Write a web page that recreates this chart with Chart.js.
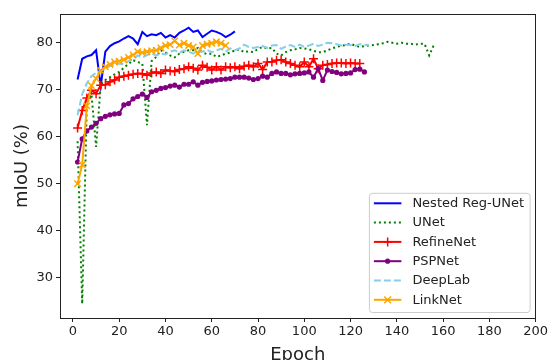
<!DOCTYPE html>
<html>
<head>
<meta charset="utf-8">
<script src="https://cdn.jsdelivr.net/npm/chart.js@4"></script>
<style>
  html, body { margin: 0; padding: 0; background: #fff; }
  #wrap { width: 550px; height: 360px; position: relative; }
</style>
</head>
<body>
<div id="wrap"><canvas id="mainChart" width="550" height="360"></canvas></div>
<script>
  // epochs shared by all curves; each curve uses the first N of them
  var epochs = [2, 4, 6, 8, 10, 12, 14, 16, 18, 20, 22, 24, 26, 28, 30, 32, 34, 36, 38, 40,
    42, 44, 46, 48, 50, 52, 54, 56, 58, 60, 62, 64, 66, 68, 70, 72, 74, 76, 78, 80,
    82, 84, 86, 88, 90, 92, 94, 96, 98, 100, 102, 104, 106, 108, 110, 112, 114, 116, 118, 120,
    122, 124, 126, 128, 130, 132, 134, 136, 138, 140, 142, 144, 146, 148, 150, 152, 154, 156];

  var seriesNames = ["Nested Reg-UNet", "UNet", "RefineNet", "PSPNet", "DeepLab", "LinkNet"];

  var nestedValues = [72.1, 76.5, 77, 77.3, 78.3, 70.7, 78, 79.2, 79.8, 80.2, 80.8, 81.3, 80.8, 79.6, 82.2,
    81.3, 81.7, 81.5, 82, 81, 81.5, 81, 82, 82.5, 83.1, 82.2, 82.5, 81.1, 81.8, 82.5, 82.2, 81.8,
    81.1, 81.6, 82.3];

  var unetValues = [59, 24.5, 67, 69, 57.8, 71, 72, 72.6, 73.2, 73.7, 74.6, 75.4, 76.2, 75.8, 75.5,
    62.4, 76, 76.9, 78.3, 77.8, 77.2, 76.8, 77.6, 78, 78.3, 78.3, 78.8, 77.8, 77.5, 77.6, 76.9,
    77.2, 77.6, 77.8, 78.3, 78.5, 77.9, 78.1, 77.9, 78.6, 79, 78.7, 78.8, 77.6, 77.2, 77.9, 78.3,
    78.5, 78.8, 78.7, 78.5, 78.2, 77.9, 77.9, 78.3, 78.7, 79, 79.3, 79.4, 79.7, 79.3, 79, 79.2,
    79.3, 79.4, 79.6, 79.8, 80.1, 79.9, 79.7, 79.9, 79.7, 79.7, 79.5, 79.7, 79.7, 77.2, 79.4];

  var refineValues = [61.8, 65.5, 68.2, 69.8, 69.1, 70.9, 71, 71.6, 72, 72.6, 72.8, 73, 73.2, 73.4,
    73.3, 73, 73.5, 73.7, 73.4, 74.1, 73.9, 73.8, 74.2, 74.4, 74.8, 74.5, 74.1, 75.1, 74.7, 74.1,
    74.8, 74.1, 74.8, 74.6, 74.8, 74.4, 74.9, 75.1, 74.8, 75.5, 74.2, 75.8, 75.8, 76.2, 76.3,
    75.8, 75.5, 75.1, 74.8, 75.8, 74.8, 76.5, 74.4, 75.1, 75.3, 75.5, 75.6, 75.6, 75.5, 75.6,
    75.5, 75.5];

  var pspValues = [54.6, 59.5, 61.2, 62, 62.8, 63.8, 64.3, 64.6, 64.8, 64.9, 66.7, 67, 68, 68.5, 69,
    68.3, 69.5, 69.8, 70.2, 70.4, 70.7, 70.9, 70.5, 71.1, 71.1, 71.6, 70.9, 71.5, 71.7, 71.8, 72,
    72.1, 72.2, 72.3, 72.6, 72.6, 72.6, 72.4, 72.1, 72.3, 72.8, 72.6, 73.4, 73.7, 73.4, 73.4,
    73.1, 73.3, 73.4, 73.5, 73.7, 72.6, 74.4, 71.9, 74.1, 73.8, 73.6, 73.3, 73.4, 73.5, 74.2,
    74.3, 73.7];

  var deeplabValues = [64.5, 69, 71.3, 72.8, 73.5, 74, 74.3, 75, 75.2, 75.5, 75.3, 76, 76.5, 77.2,
    76.8, 77.3, 77.6, 77.2, 77.6, 77.4, 78, 78.3, 77.8, 78.3, 78, 77.6, 78.2, 78, 78.4, 77.9,
    78.3, 78.6, 78, 78.7, 78.3, 78.7, 79.5, 79, 78.8, 79, 79.2, 78.8, 79.3, 79.4, 78.6, 79.1,
    79.4, 79, 79.5, 79, 79.3, 79.7, 79.2, 79.5, 79.9, 79.8, 79.6, 79.3, 79.5, 79.4, 79.2, 79.6,
    79.5, 79.4];

  var linknetValues = [50, 54, 66.5, 70.8, 72.3, 74, 74.8, 75.3, 75.8, 76, 76.3, 76.8, 77.3, 78,
    77.8, 78, 78.2, 78.3, 78.8, 79.3, 79.5, 80.3, 79.4, 79.8, 79.3, 79, 77.6, 79.3, 79.6, 79.8,
    80.1, 79.8, 79.3];

  var xTickValues = [0, 20, 40, 60, 80, 100, 120, 140, 160, 180, 200];
  var yTickValues = [30, 40, 50, 60, 70, 80];

  function pairUp(values) {
    return values.map(function (v, i) { return { x: epochs[i], y: v }; });
  }

  var styles = [
    { color: "#0000ff", dash: [], point: false, radius: 0 },
    { color: "#008000", dash: [2, 3], point: false, radius: 0 },
    { color: "#ff0000", dash: [], point: "cross", radius: 4.5 },
    { color: "#800080", dash: [], point: "circle", radius: 2.6 },
    { color: "#87ceeb", dash: [7, 3], point: false, radius: 0 },
    { color: "#ffa500", dash: [], point: "crossRot", radius: 4.5 }
  ];
  var allValues = [nestedValues, unetValues, refineValues, pspValues, deeplabValues, linknetValues];

  var datasets = seriesNames.map(function (name, i) {
    var s = styles[i];
    return {
      label: name,
      data: pairUp(allValues[i]),
      borderColor: s.color,
      backgroundColor: s.color,
      borderWidth: 2,
      borderDash: s.dash,
      borderCapStyle: "butt",
      pointStyle: s.point || "circle",
      pointRadius: s.radius,
      pointBorderWidth: s.point === "circle" ? 0 : 1.5,
      pointBorderColor: s.color,
      pointBackgroundColor: s.color,
      tension: 0,
      fill: false,
      order: 6 - i
    };
  });

  var FONT = "'DejaVu Sans', sans-serif";

  // matplotlib-like frame and legend inside the axes
  var axesDecor = {
    id: "axesDecor",
    afterDatasetsDraw: function (chart) {
      var ctx = chart.ctx, a = chart.chartArea;
      ctx.save();
      ctx.strokeStyle = "#222";
      ctx.lineWidth = 1;
      ctx.strokeRect(Math.round(a.left) + 0.5, Math.round(a.top) + 0.5,
        Math.round(a.right - a.left) - 1, Math.round(a.bottom - a.top));
      ctx.restore();
    },
    afterDraw: function (chart) {
      var ctx = chart.ctx, a = chart.chartArea;
      ctx.save();
      ctx.font = "13px " + FONT;
      var textW = 0;
      seriesNames.forEach(function (n) { textW = Math.max(textW, ctx.measureText(n).width); });
      var rowH = 19.3;
      var w = 43 + textW + 6;
      var h = 10 + rowH * 5 + 12.7;
      var x0 = a.right - 5.5 - w;
      var y0 = a.bottom - 5.5 - h;
      // box
      var r = 3;
      ctx.beginPath();
      ctx.moveTo(x0 + r, y0);
      ctx.lineTo(x0 + w - r, y0);
      ctx.quadraticCurveTo(x0 + w, y0, x0 + w, y0 + r);
      ctx.lineTo(x0 + w, y0 + h - r);
      ctx.quadraticCurveTo(x0 + w, y0 + h, x0 + w - r, y0 + h);
      ctx.lineTo(x0 + r, y0 + h);
      ctx.quadraticCurveTo(x0, y0 + h, x0, y0 + h - r);
      ctx.lineTo(x0, y0 + r);
      ctx.quadraticCurveTo(x0, y0, x0 + r, y0);
      ctx.closePath();
      ctx.fillStyle = "rgba(255,255,255,0.8)";
      ctx.fill();
      ctx.strokeStyle = "#cccccc";
      ctx.lineWidth = 1;
      ctx.stroke();

      seriesNames.forEach(function (name, i) {
        var s = styles[i];
        var cy = y0 + 10 + rowH * i;
        var hx0 = x0 + 4.5, hx1 = x0 + 32;
        ctx.save();
        ctx.strokeStyle = s.color;
        ctx.lineWidth = 2;
        ctx.lineCap = "butt";
        ctx.setLineDash(s.dash);
        ctx.beginPath();
        ctx.moveTo(hx0, cy);
        ctx.lineTo(hx1, cy);
        ctx.stroke();
        ctx.restore();
        if (s.point) {
          var mx = (hx0 + hx1) / 2;
          ctx.save();
          ctx.strokeStyle = s.color;
          ctx.fillStyle = s.color;
          ctx.lineWidth = 1.5;
          if (s.point === "circle") {
            ctx.beginPath();
            ctx.arc(mx, cy, s.radius, 0, Math.PI * 2);
            ctx.fill();
          } else if (s.point === "cross") {
            ctx.beginPath();
            ctx.moveTo(mx - s.radius, cy); ctx.lineTo(mx + s.radius, cy);
            ctx.moveTo(mx, cy - s.radius); ctx.lineTo(mx, cy + s.radius);
            ctx.stroke();
          } else {
            var d = s.radius * 0.75;
            ctx.beginPath();
            ctx.moveTo(mx - d, cy - d); ctx.lineTo(mx + d, cy + d);
            ctx.moveTo(mx - d, cy + d); ctx.lineTo(mx + d, cy - d);
            ctx.stroke();
          }
          ctx.restore();
        }
        ctx.fillStyle = "#222";
        ctx.textBaseline = "middle";
        ctx.textAlign = "left";
        ctx.fillText(name, x0 + 43, cy + 0.5);
      });
      ctx.restore();
    }
  };

  new Chart("mainChart", {
    type: "line",
    data: { datasets: datasets },
    options: {
      responsive: false,
      animation: false,
      events: [],
      layout: { padding: { left: 0, right: 11, top: 14, bottom: 0 } },
      plugins: {
        legend: { display: false },
        tooltip: { enabled: false }
      },
      scales: {
        x: {
          type: "linear",
          min: -5.6,
          max: 200,
          afterBuildTicks: function (scale) {
            scale.ticks = xTickValues.map(function (v) { return { value: v }; });
          },
          afterFit: function (scale) { scale.height = 42; },
          border: { display: false },
          grid: { drawOnChartArea: false, drawTicks: true, tickLength: 4, tickColor: "#222", tickWidth: 1 },
          ticks: { color: "#222", font: { family: FONT, size: 13 }, padding: 2, maxRotation: 0, autoSkip: false },
          title: { display: true, text: "Epoch", color: "#222", font: { family: FONT, size: 18 }, padding: { top: 0, bottom: -6 } }
        },
        y: {
          type: "linear",
          min: 21.5,
          max: 86,
          afterBuildTicks: function (scale) {
            scale.ticks = yTickValues.map(function (v) { return { value: v }; });
          },
          afterFit: function (scale) { scale.width = 60; },
          border: { display: false },
          grid: { drawOnChartArea: false, drawTicks: true, tickLength: 4, tickColor: "#222", tickWidth: 1 },
          ticks: { color: "#222", font: { family: FONT, size: 13 }, padding: 3, autoSkip: false },
          title: { display: true, text: "mIoU (%)", color: "#222", font: { family: FONT, size: 18 }, padding: { top: 12, bottom: 0 } }
        }
      }
    },
    plugins: [axesDecor]
  });
</script>
</body>
</html>
